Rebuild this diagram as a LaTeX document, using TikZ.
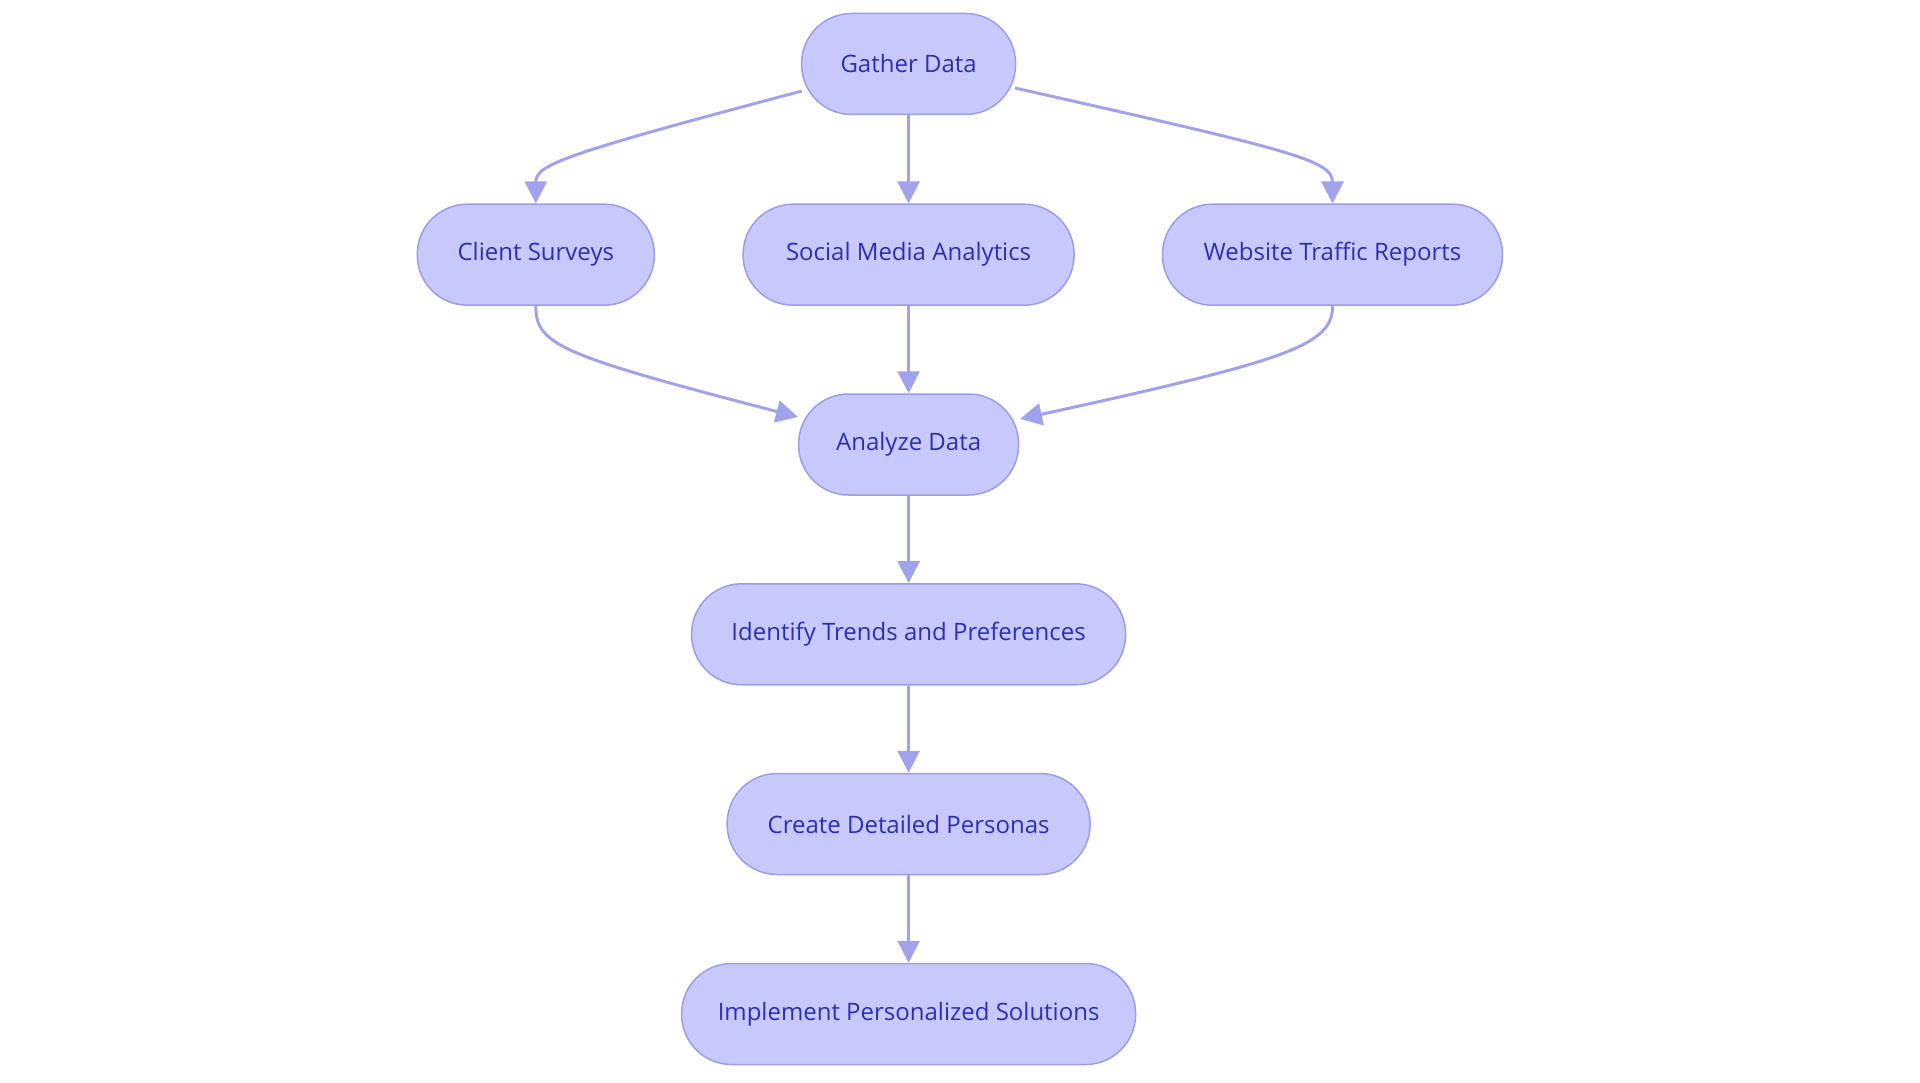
\documentclass[tikz,border=0pt]{standalone}
\usepackage{fontspec}
\setmainfont{Open Sans}
\usetikzlibrary{arrows.meta}
\definecolor{nodefill}{HTML}{C7C9FC}
\definecolor{nodeline}{HTML}{9A9DE8}
\definecolor{edgeline}{HTML}{A0A3EB}
\definecolor{nodetext}{HTML}{2B2FB5}
\tikzset{
  pill/.style={draw=nodeline, fill=nodefill, line width=1.5pt, rounded corners=50pt,
    minimum height=101pt, inner sep=0pt, text=nodetext, font=\fontsize{24}{29}\selectfont},
  flow/.style={draw=edgeline, line width=3pt, -{Triangle[length=22pt,width=22pt]}}
}
\begin{document}
\begin{tikzpicture}[x=1pt,y=-1pt]
\useasboundingbox (0,0) rectangle (1920,1083);
\node[pill, minimum width=214pt] (g) at (908.6,64) {Gather Data};
\node[pill, minimum width=237pt] (c) at (535.8,254.7) {Client Surveys};
\node[pill, minimum width=331pt] (s) at (908.6,254.7) {Social Media Analytics};
\node[pill, minimum width=340pt] (w) at (1332.5,254.7) {Website Traffic Reports};
\node[pill, minimum width=220pt] (a) at (908.6,444.5) {Analyze Data};
\node[pill, minimum width=434pt] (i) at (908.6,634.3) {Identify Trends and Preferences};
\node[pill, minimum width=363pt] (p) at (908.6,824) {Create Detailed Personas};
\node[pill, minimum width=454pt] (m) at (908.6,1014) {Implement Personalized Solutions};
\coordinate (gl) at (802,91);
\coordinate (gr) at (1015,88);
\coordinate (al) at (798,417);
\coordinate (ar) at (1020,419);
\draw[flow] (gl) .. controls (560,155) and (535.8,165) .. (c.north);
\draw[flow] (g.south) -- (s.north);
\draw[flow] (gr) .. controls (1290,150) and (1332.5,160) .. (w.north);
\draw[flow] (c.south) .. controls (535.8,345) and (560,355) .. (al);
\draw[flow] (s.south) -- (a.north);
\draw[flow] (w.south) .. controls (1332.5,345) and (1290,360) .. (ar);
\draw[flow] (a.south) -- (i.north);
\draw[flow] (i.south) -- (p.north);
\draw[flow] (p.south) -- (m.north);
\end{tikzpicture}
\end{document}
